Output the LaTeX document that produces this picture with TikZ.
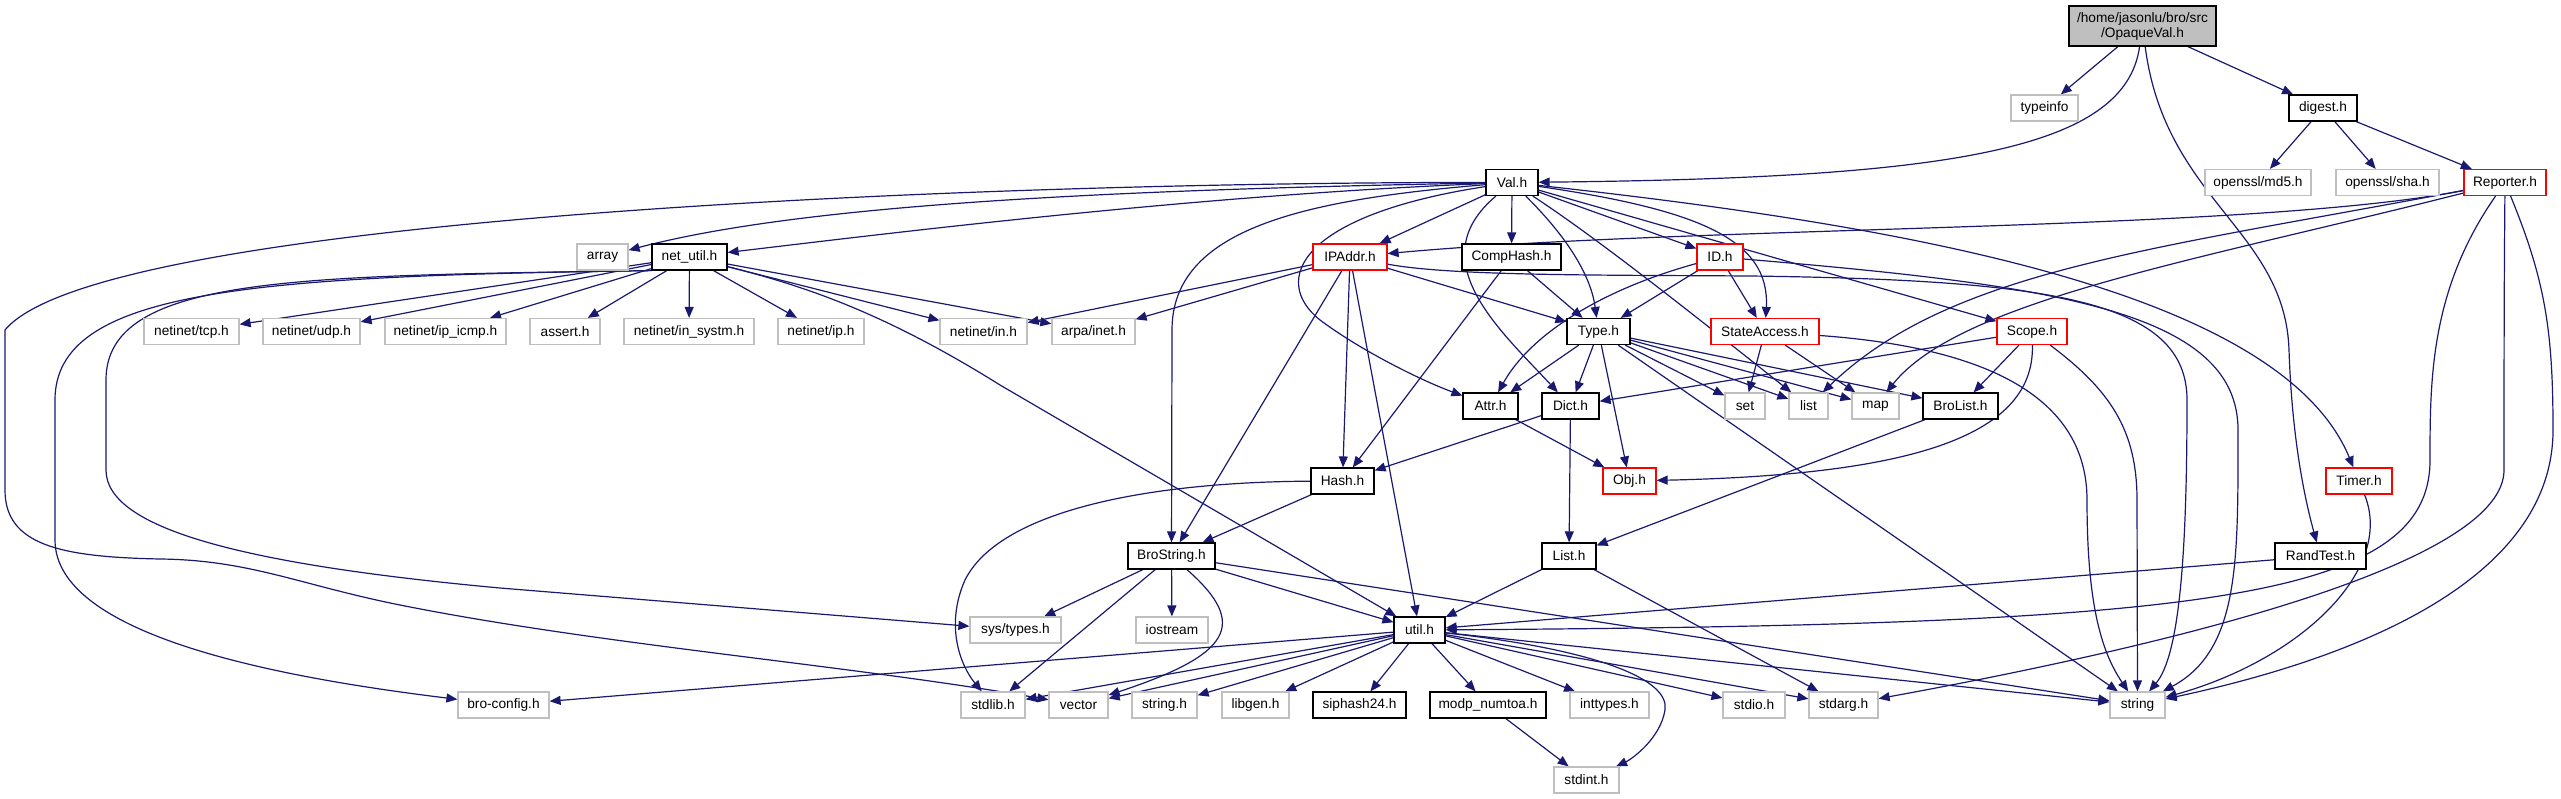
\documentclass[tikz,border=0pt]{standalone}
\usepackage{fontspec}
\newfontfamily\dxfont{Liberation Sans}
\usetikzlibrary{arrows.meta,backgrounds}
\definecolor{edgeblue}{RGB}{25,25,112}
\definecolor{extgray}{RGB}{191,191,191}
\begin{document}
\begin{tikzpicture}[x=1pt,y=-1pt,
 nd/.style={rectangle, minimum height=26pt, inner sep=0pt, line width=1.2pt, font=\dxfont\fontsize{13.7}{15}\selectfont, text=black},
 doc/.style={nd, draw=black, fill=white},
 ext/.style={nd, draw=extgray, fill=white},
 trunc/.style={nd, draw=red, fill=white},
 dep/.style={draw=edgeblue, line width=1.2pt, -{Triangle[length=11pt,width=9pt]}}]
\useasboundingbox (0,0) rectangle (2561,799);
% row 0
\node[nd, draw=black, fill=extgray, minimum width=147pt, minimum height=40pt, align=center] (root) at (2142.5,26) {/home/jasonlu/bro/src\\/OpaqueVal.h};
% row 1
\node[ext, minimum width=67pt] (typeinfo) at (2044.5,108) {typeinfo};
\node[doc, minimum width=68pt] (digest) at (2323,108) {digest.h};
% row 2
\node[doc, minimum width=52pt] (val) at (1512,182.5) {Val.h};
\node[ext, minimum width=106pt] (md5) at (2258,182.5) {openssl/md5.h};
\node[ext, minimum width=103pt] (sha) at (2387.5,182.5) {openssl/sha.h};
\node[trunc, minimum width=82pt] (rep) at (2505,182.5) {Reporter.h};
% row 3
\node[ext, minimum width=51pt] (array) at (602.5,257) {array};
\node[doc, minimum width=75pt] (netutil) at (689.5,257) {net\_util.h};
\node[trunc, minimum width=74pt] (ipaddr) at (1350,257) {IPAddr.h};
\node[doc, minimum width=99pt] (comphash) at (1511.5,257) {CompHash.h};
\node[trunc, minimum width=46pt] (id) at (1720,257) {ID.h};
% row 4
\node[ext, minimum width=95pt] (tcp) at (191.5,331.5) {netinet/tcp.h};
\node[ext, minimum width=97pt] (udp) at (311.5,331.5) {netinet/udp.h};
\node[ext, minimum width=121pt] (icmp) at (445.5,331.5) {netinet/ip\_icmp.h};
\node[ext, minimum width=70pt] (assert) at (565,331.5) {assert.h};
\node[ext, minimum width=130pt] (insystm) at (689,331.5) {netinet/in\_systm.h};
\node[ext, minimum width=86pt] (iph) at (821,331.5) {netinet/ip.h};
\node[ext, minimum width=87pt] (inh) at (983.5,331.5) {netinet/in.h};
\node[ext, minimum width=83pt] (inet) at (1093.5,331.5) {arpa/inet.h};
\node[doc, minimum width=63pt] (type) at (1598.5,331.5) {Type.h};
\node[trunc, minimum width=108pt] (sa) at (1765,331.5) {StateAccess.h};
\node[trunc, minimum width=70pt] (scope) at (2032,331.5) {Scope.h};
% row 5
\node[doc, minimum width=55pt] (attr) at (1490.5,406) {Attr.h};
\node[doc, minimum width=57pt] (dict) at (1570.5,406) {Dict.h};
\node[ext, minimum width=40pt] (set) at (1745,406) {set};
\node[ext, minimum width=39pt] (lst) at (1808.5,406) {list};
\node[ext, minimum width=47pt] (map) at (1875.5,406) {map};
\node[doc, minimum width=75pt] (brolist) at (1960.5,406) {BroList.h};
% row 6
\node[doc, minimum width=63pt] (hash) at (1342.5,481) {Hash.h};
\node[trunc, minimum width=53pt] (obj) at (1629.5,481) {Obj.h};
\node[trunc, minimum width=66pt] (timer) at (2359,481) {Timer.h};
% row 7
\node[doc, minimum width=87pt] (brostr) at (1171.5,556) {BroString.h};
\node[doc, minimum width=54pt] (listh) at (1569,556) {List.h};
\node[doc, minimum width=91pt] (randtest) at (2320.5,556) {RandTest.h};
% row 8
\node[ext, minimum width=91pt] (systypes) at (1015.5,630) {sys/types.h};
\node[ext, minimum width=72pt] (iostream) at (1172,630) {iostream};
\node[doc, minimum width=51pt] (util) at (1419.5,630) {util.h};
% row 9
\node[ext, minimum width=91pt] (broconfig) at (503.5,705) {bro-config.h};
\node[ext, minimum width=64pt] (stdlib) at (993,705) {stdlib.h};
\node[ext, minimum width=59pt] (vector) at (1078.5,705) {vector};
\node[ext, minimum width=65pt] (stringh) at (1164.5,705) {string.h};
\node[ext, minimum width=67pt] (libgen) at (1255.5,705) {libgen.h};
\node[doc, minimum width=93pt] (siphash) at (1359.5,705) {siphash24.h};
\node[doc, minimum width=116pt] (modp) at (1488,705) {modp\_numtoa.h};
\node[ext, minimum width=79pt] (inttypes) at (1609.5,705) {inttypes.h};
\node[ext, minimum width=62pt] (stdio) at (1754,705) {stdio.h};
\node[ext, minimum width=69pt] (stdarg) at (1843.5,705) {stdarg.h};
\node[ext, minimum width=55pt] (string) at (2137.5,705) {string};
% row 10
\node[ext, minimum width=65pt] (stdint) at (1586.5,780) {stdint.h};

\begin{scope}[on background layer]
% OpaqueVal.h
\draw[dep] (root) -- (typeinfo);
\draw[dep] (root) -- (digest);
\draw[dep] (root) .. controls (2125,150) and (1950,178) .. (val);
\draw[dep] (root) .. controls (2165,200) and (2285,230) .. (2289,350) .. controls (2292,440) and (2305,500) .. (randtest);
% digest.h
\draw[dep] (digest) -- (md5);
\draw[dep] (digest) -- (sha);
\draw[dep] (digest) -- (rep);
% Reporter.h
\draw[dep] (rep) .. controls (2250,232) and (1700,225) .. (ipaddr);
\draw[dep] (rep) .. controls (2150,250) and (1950,270) .. (lst);
\draw[dep] (rep) .. controls (2200,260) and (1960,300) .. (map);
\draw[dep] (rep) .. controls (2430,290) and (2430,380) .. (2430,460) .. controls (2430,600) and (2200,625) .. (util);
\draw[dep] (rep) .. controls (2504,300) and (2504,380) .. (2504,470) .. controls (2504,560) and (2200,640) .. (stdarg);
\draw[dep] (rep) .. controls (2545,280) and (2553,330) .. (2553,430) .. controls (2553,600) and (2300,670) .. (string);
% Timer.h, RandTest.h
\draw[dep] (timer) .. controls (2395,570) and (2300,660) .. (string);
\draw[dep] (randtest) -- (util);
% Val.h
\draw[dep] (val) .. controls (1900,225) and (2280,290) .. (timer);
\draw[dep] (val) .. controls (1100,190) and (800,205) .. (array);
\draw[dep] (val) .. controls (1200,195) and (900,232) .. (netutil);
\draw[dep] (val) .. controls (1000,182) and (100,215) .. (5,330) -- (5,490) .. controls (5,545) and (60,557) .. (160,559) .. controls (250,560) and (300,585) .. (400,605) .. controls (600,645) and (850,665) .. (vector);
\draw[dep] (val) -- (ipaddr);
\draw[dep] (val) -- (comphash);
\draw[dep] (val) .. controls (1560,230) and (1590,270) .. (type);
\draw[dep] (val) .. controls (1300,215) and (1270,280) .. (1320,320) .. controls (1360,350) and (1420,380) .. (attr);
\draw[dep] (val) .. controls (1420,260) and (1500,330) .. (dict);
\draw[dep] (val) .. controls (1300,200) and (1172,230) .. (1172,330) -- (brostr);
\draw[dep] (val) -- (id);
\draw[dep] (val) .. controls (1700,210) and (1770,240) .. (sa);
\draw[dep] (val) -- (scope);
\draw[dep] (val) .. controls (1600,240) and (1700,320) .. (lst);
% Type.h
\draw[dep] (type) -- (attr);
\draw[dep] (type) -- (dict);
\draw[dep] (type) -- (obj);
\draw[dep] (type) -- (set);
\draw[dep] (type) -- (lst);
\draw[dep] (type) -- (map);
\draw[dep] (type) -- (brolist);
\draw[dep] (type) -- (string);
% IPAddr.h
\draw[dep] (ipaddr) -- (inh);
\draw[dep] (ipaddr) -- (inet);
\draw[dep] (ipaddr) -- (type);
\draw[dep] (ipaddr) .. controls (1450,276) and (1600,275) .. (1750,276) .. controls (2050,280) and (2187,300) .. (2187,400) .. controls (2187,550) and (2180,655) .. (string);
\draw[dep] (ipaddr) -- (hash);
\draw[dep] (ipaddr) -- (brostr);
\draw[dep] (ipaddr) -- (util);
% CompHash.h
\draw[dep] (comphash) -- (type);
\draw[dep] (comphash) -- (hash);
% ID.h
\draw[dep] (id) -- (type);
\draw[dep] (id) .. controls (1600,290) and (1530,335) .. (attr);
\draw[dep] (id) -- (sa);
\draw[dep] (id) .. controls (2050,285) and (2238,310) .. (2238,430) .. controls (2238,560) and (2240,650) .. (string);
% StateAccess.h
\draw[dep] (sa) -- (set);
\draw[dep] (sa) -- (map);
\draw[dep] (sa) .. controls (1950,345) and (2087,380) .. (2087,500) .. controls (2087,600) and (2100,650) .. (string);
% Scope.h
\draw[dep] (scope) -- (dict);
\draw[dep] (scope) -- (brolist);
\draw[dep] (scope) .. controls (2035,440) and (1900,475) .. (obj);
\draw[dep] (scope) .. controls (2110,390) and (2137,430) .. (2137,500) -- (string);
% Attr, Dict, BroList, Hash
\draw[dep] (attr) -- (obj);
\draw[dep] (dict) -- (hash);
\draw[dep] (dict) -- (listh);
\draw[dep] (brolist) -- (listh);
\draw[dep] (hash) -- (brostr);
\draw[dep] (hash) .. controls (1150,482) and (1000,510) .. (965,580) .. controls (945,625) and (960,665) .. (stdlib);
% BroString.h
\draw[dep] (brostr) -- (systypes);
\draw[dep] (brostr) -- (iostream);
\draw[dep] (brostr) -- (stdlib);
\draw[dep] (brostr) .. controls (1250,625) and (1230,655) .. (vector);
\draw[dep] (brostr) -- (util);
\draw[dep] (brostr) -- (string);
% List.h
\draw[dep] (listh) -- (util);
\draw[dep] (listh) -- (stdarg);
% util.h
\draw[dep] (util) -- (broconfig);
\draw[dep] (util) -- (stdlib);
\draw[dep] (util) -- (vector);
\draw[dep] (util) -- (stringh);
\draw[dep] (util) -- (libgen);
\draw[dep] (util) -- (siphash);
\draw[dep] (util) -- (modp);
\draw[dep] (util) -- (inttypes);
\draw[dep] (util) -- (stdio);
\draw[dep] (util) -- (stdarg);
\draw[dep] (util) -- (string);
\draw[dep] (util) .. controls (1600,650) and (1670,680) .. (1665,710) .. controls (1660,740) and (1630,760) .. (stdint);
\draw[dep] (modp) -- (stdint);
% net_util.h
\draw[dep] (netutil) -- (tcp);
\draw[dep] (netutil) -- (udp);
\draw[dep] (netutil) -- (icmp);
\draw[dep] (netutil) -- (assert);
\draw[dep] (netutil) -- (insystm);
\draw[dep] (netutil) -- (iph);
\draw[dep] (netutil) -- (inh);
\draw[dep] (netutil) -- (inet);
\draw[dep] (netutil) .. controls (800,285) and (880,310) .. (1000,385) -- (util);
\draw[dep] (netutil.south west) .. controls (300,276) and (106,275) .. (106,380) -- (106,470) .. controls (106,530) and (250,565) .. (500,588) -- (systypes);
\draw[dep] (netutil.south west) .. controls (250,276) and (55,290) .. (55,400) -- (55,540) .. controls (55,640) and (300,680) .. (broconfig);
\end{scope}
\end{tikzpicture}
\end{document}
